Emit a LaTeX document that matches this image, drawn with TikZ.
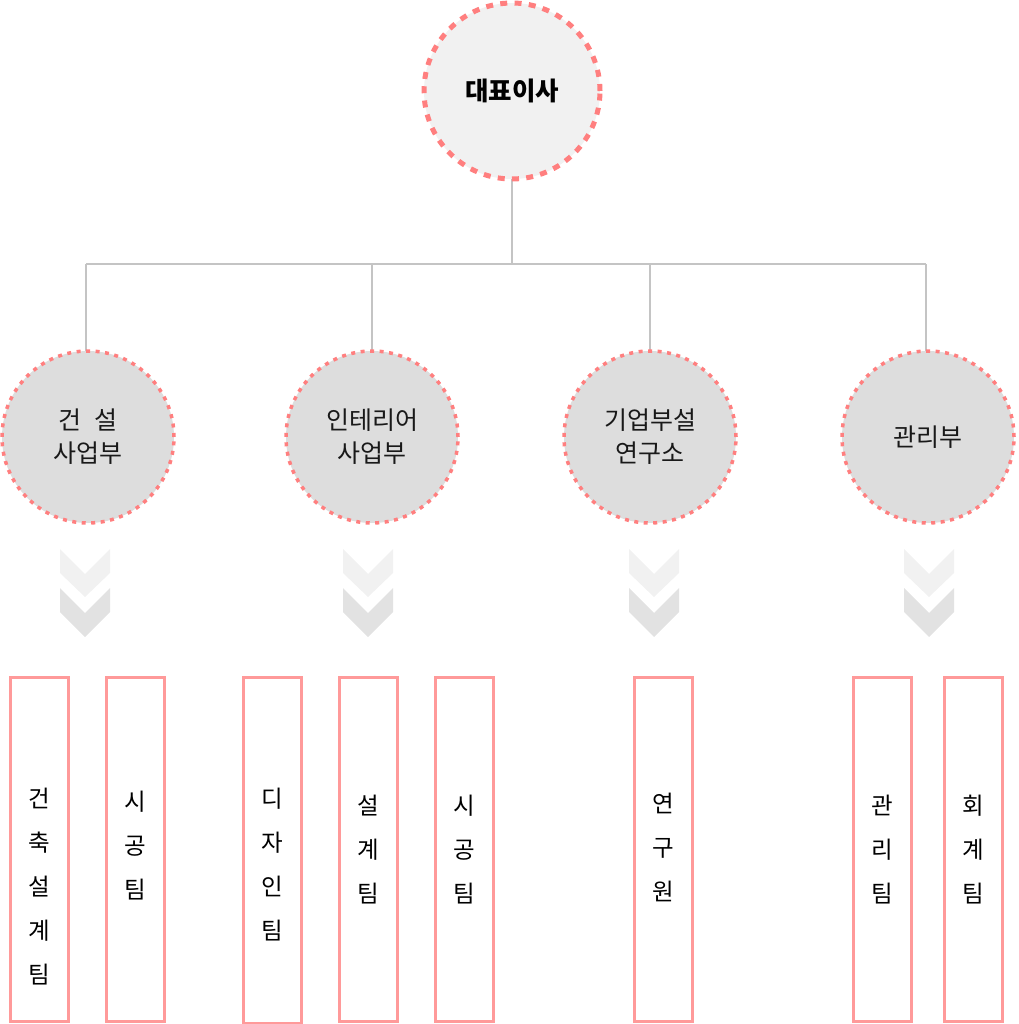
\documentclass[tikz,border=0pt]{standalone}
\usepackage{fontspec}
\setmainfont{Noto Sans CJK KR}
\definecolor{dashred}{HTML}{FF7F7F}
\definecolor{boxred}{HTML}{FF9A9A}
\definecolor{linegray}{HTML}{C4C4C4}
\definecolor{topfill}{HTML}{F1F1F1}
\definecolor{midfill}{HTML}{DDDDDD}
\definecolor{chevA}{HTML}{F1F1F1}
\definecolor{chevB}{HTML}{E2E2E2}
\tikzset{
  ceo/.style={circle, minimum size=176pt, inner sep=0pt, fill=topfill, draw=dashred, line width=5pt, dash pattern=on 7pt off 7.3pt, font=\fontsize{25.5}{30}\selectfont\bfseries, text=black},
  dept/.style={circle, minimum size=172pt, inner sep=0pt, fill=midfill, draw=dashred, line width=3.5pt, dash pattern=on 4pt off 5.5pt, font=\fontsize{25}{33}\selectfont, align=center, text=black!90},
  team/.style={rectangle, draw=boxred, line width=3pt, minimum width=58pt, minimum height=344pt, inner sep=0pt, anchor=north},
  teamtxt/.style={anchor=north, align=center, font=\fontsize{23.5}{44}\selectfont, inner sep=0pt},
  conn/.style={draw=linegray, line width=2pt},
}
\begin{document}
\begin{tikzpicture}[x=1pt,y=-1pt]
\useasboundingbox (0,0) rectangle (1018,1024);
\coordinate (bus) at (512,264);
\coordinate (b1) at (86,264);
\coordinate (b2) at (372,264);
\coordinate (b3) at (650,264);
\coordinate (b4) at (926,264);
\coordinate (e1) at (86,351);
\coordinate (e4) at (926,351);
\draw[conn] (512,178) -- (bus);
\draw[conn] (b1) -- (b4);
\draw[conn] (b1) -- (e1);
\draw[conn] (b2) -- (372,351);
\draw[conn] (b3) -- (650,351);
\draw[conn] (b4) -- (e4);
\node[ceo] (ceo) at (512,91) {대표이사};
\node[dept] (d1) at (88,437) {건\hspace{0.55em}설\\사업부};
\node[dept] (d2) at (372,437) {인테리어\\사업부};
\node[dept] (d3) at (650,437) {기업부설\\연구소};
\node[dept] (d4) at (928,437) {관리부};
% chevrons
\foreach \cx in {85,368,654,929}{
  \fill[chevA] (\cx-25,549) -- (\cx,574) -- (\cx+25,549) -- (\cx+25,573) -- (\cx,597) -- (\cx-25,573) -- cycle;
  \fill[chevB] (\cx-25,588) -- (\cx,613) -- (\cx+25,588) -- (\cx+25,612) -- (\cx,637) -- (\cx-25,612) -- cycle;
}
% team boxes
\node[team] (t1) at (39,676) {};
\node[team] (t2) at (135.5,676) {};
\node[team, minimum height=346pt] (t3) at (272,676) {};
\node[team] (t4) at (368,676) {};
\node[team] (t5) at (464,676) {};
\node[team] (t6) at (663,676) {};
\node[team] (t7) at (882,676) {};
\node[team] (t8) at (973,676) {};
\node[teamtxt] (x1) at (39,788) {건\\축\\설\\계\\팀};
\node[teamtxt] (x2) at (135.5,791) {시\\공\\팀};
\node[teamtxt] (x3) at (272,788) {디\\자\\인\\팀};
\node[teamtxt] (x4) at (368,795) {설\\계\\팀};
\node[teamtxt] (x5) at (464,795) {시\\공\\팀};
\node[teamtxt] (x6) at (663,793) {연\\구\\원};
\node[teamtxt] (x7) at (882,795) {관\\리\\팀};
\node[teamtxt] (x8) at (973,795) {회\\계\\팀};
\end{tikzpicture}
\end{document}
